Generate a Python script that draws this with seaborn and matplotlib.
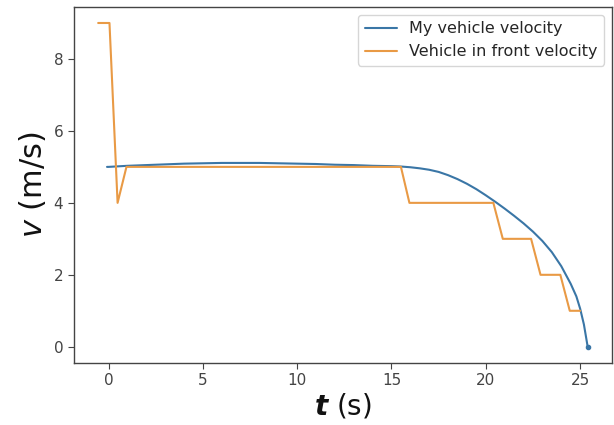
import numpy as np
import pandas as pd
import matplotlib
matplotlib.use("Agg")
import matplotlib.pyplot as plt
import seaborn as sns

# My vehicle velocity
my_t = [-0.08, 0.0, 1.0, 2.0, 3.0, 4.0, 5.0, 6.0, 7.0, 8.0, 9.0, 10.0, 11.0, 12.0,
        13.0, 14.0, 15.0, 15.5, 16.0, 16.5, 17.0, 17.5, 18.0, 18.5, 19.0, 19.5,
        20.0, 20.5, 21.0, 21.5, 22.0, 22.5, 23.0, 23.5, 24.0, 24.5, 24.8, 25.0,
        25.2, 25.4]
my_v = [5.0, 5.0, 5.03, 5.05, 5.07, 5.09, 5.10, 5.11, 5.11, 5.11, 5.10, 5.09, 5.08,
        5.06, 5.05, 5.03, 5.02, 5.01, 4.99, 4.96, 4.92, 4.86, 4.77, 4.66, 4.53, 4.38,
        4.21, 4.03, 3.84, 3.64, 3.43, 3.20, 2.94, 2.63, 2.24, 1.75, 1.40, 1.06, 0.62, 0.0]

# Vehicle in front velocity
front_t = [-0.55, 0.05, 0.48, 0.95, 15.5, 15.95, 20.4, 20.9, 22.4, 22.9, 23.95, 24.45, 25.0]
front_v = [9.0, 9.0, 4.0, 5.0, 5.0, 4.0, 4.0, 3.0, 3.0, 2.0, 2.0, 1.0, 1.0]

labels = ["My vehicle velocity", "Vehicle in front velocity"]
xticks = [0, 5, 10, 15, 20, 25]
yticks = [0, 2, 4, 6, 8]

sns.set_style("ticks")
plt.rcParams["font.family"] = ["DejaVu Sans"]

df_my = pd.DataFrame({"t": my_t, "v": my_v})
df_front = pd.DataFrame({"t": front_t, "v": front_v})

blue = "#3a76a6"
orange = "#e99a45"

fig = plt.figure(figsize=(6.14, 4.25), dpi=100)
ax = fig.add_axes([0.12, 0.146, 0.877, 0.838])

sns.lineplot(data=df_my, x="t", y="v", sort=False, estimator=None, ax=ax,
             color=blue, linewidth=1.5, label=labels[0])
sns.lineplot(data=df_front, x="t", y="v", sort=False, estimator=None, ax=ax,
             color=orange, linewidth=1.5, label=labels[1])
ax.plot([my_t[-1]], [my_v[-1]], "o", color=blue, markersize=3)

ax.set_xticks(xticks)
ax.set_yticks(yticks)
ax.tick_params(labelsize=11, colors="#444444", length=4)
for s in ax.spines.values():
    s.set_visible(True)
    s.set_color("#444444")
    s.set_linewidth(1.0)

ax.set_xlabel(r"$\mathbfit{t}$ (s)", fontsize=20, labelpad=2, color="#111111")
ax.set_ylabel(r"$v$ (m/s)", fontsize=22, labelpad=4, color="#111111")
ax.legend(loc="upper right", fontsize=11.5, frameon=True, handlelength=2.0,
          borderaxespad=0.5)

fig.savefig("out.png", dpi=100)
